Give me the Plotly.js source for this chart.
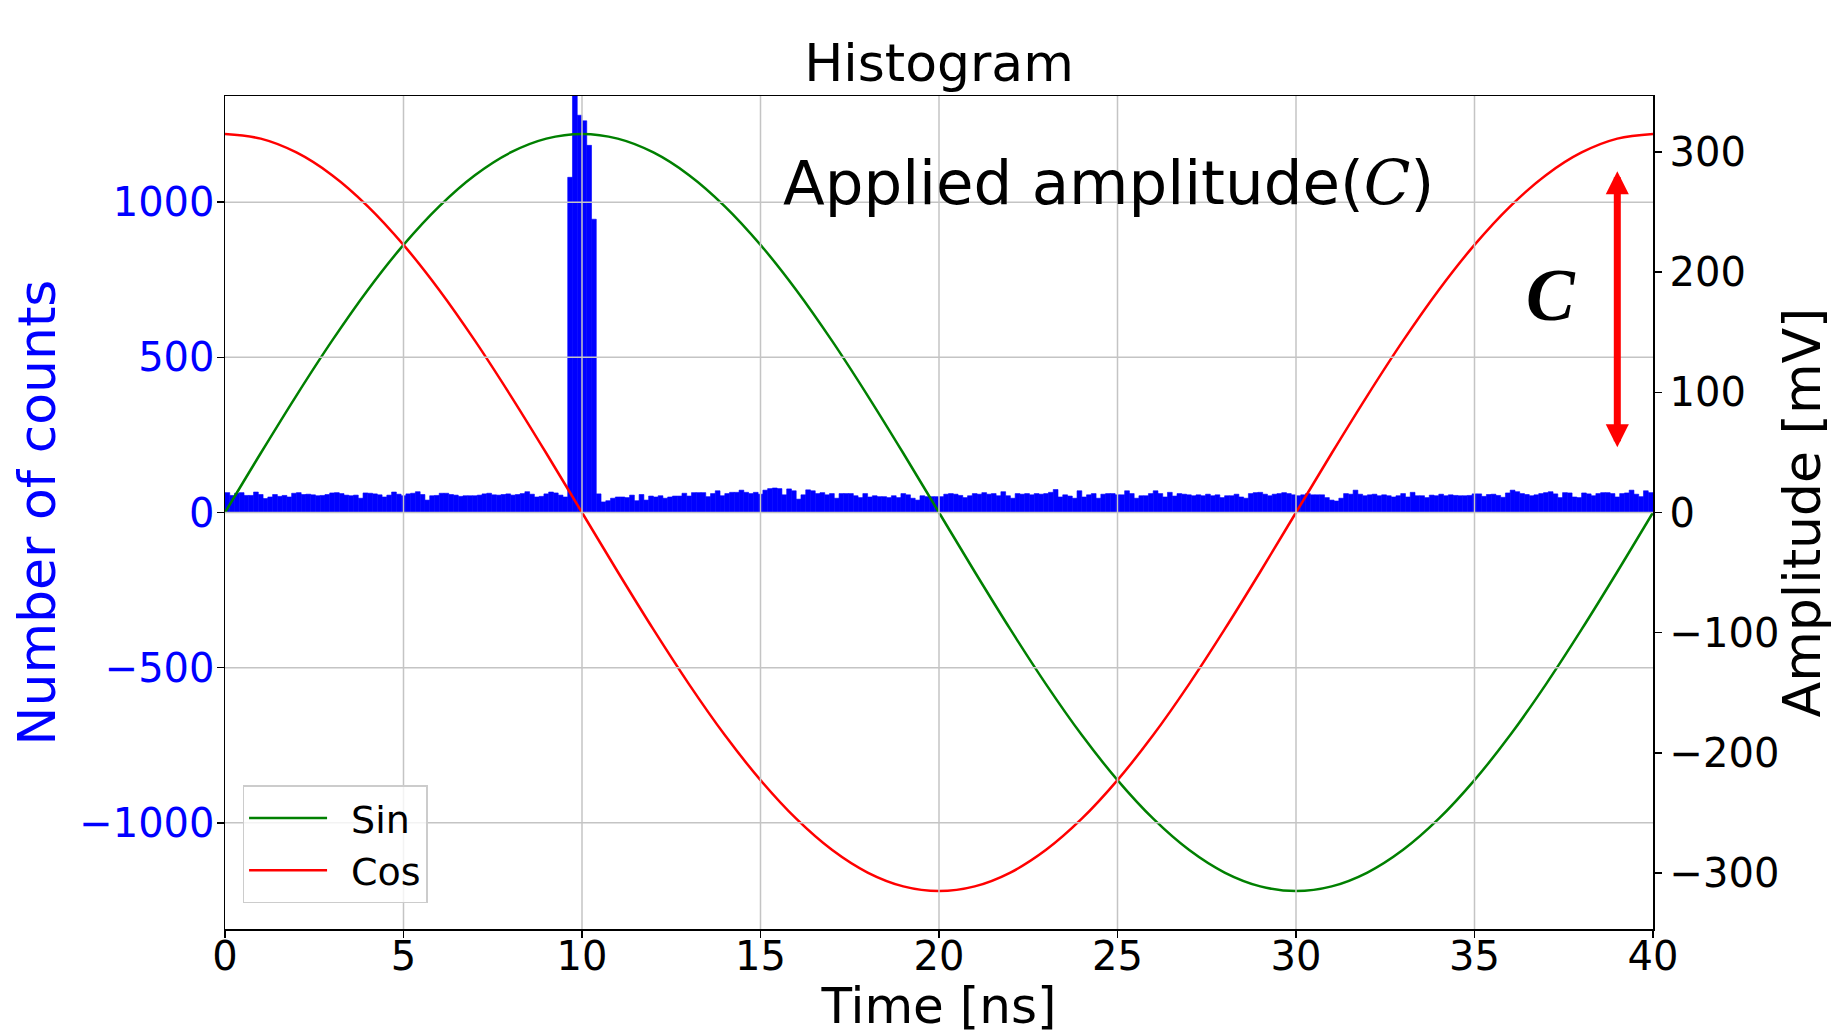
<!DOCTYPE html>
<html>
<head>
<meta charset="utf-8">
<script src="https://cdn.plot.ly/plotly-3.0.1.min.js"></script>
<style>
html,body{margin:0;padding:0;background:#ffffff;}
#chart{width:1832px;height:1035px;}
</style>
</head>
<body>
<div id="chart"></div>
<script>
// ---------------- data ----------------
// histogram: 300 bins over 0..40 ns
const binWidthNs = 40 / 300;
const counts = [
  // bins 0-49
  64,55,62,64,55,55,66,58,45,50,
  58,52,55,50,62,64,58,59,57,54,
  55,58,63,64,61,56,54,56,46,63,
  62,60,57,50,56,66,59,54,60,62,
  67,58,40,54,55,62,62,58,56,52,
  // bins 50-71
  54,
  54,54,56,60,62,57,56,58,60,56,
  58,61,67,59,50,52,60,66,63,56,50,
  // bins 72-77 (peak)
  1080,1342,1280,1262,1183,945,
  // bins 78-99
  60,34,38,46,50,50,48,56,38,58,40,53,50,54,46,50,53,53,62,53,64,64,
  // bin 100
  64,
  // bins 101-150
  51,61,70,54,61,65,65,72,65,61,
  65,59,72,77,79,77,57,76,70,43,
  57,73,70,61,64,57,61,46,61,61,
  61,54,48,61,50,54,51,51,48,54,
  48,61,57,46,40,54,51,51,51,51,
  // bin 151
  59,
  // bins 152-200
  61,59,55,48,54,61,59,64,59,61,
  54,67,54,46,61,59,61,57,61,59,
  61,65,74,50,57,53,46,70,50,57,
  61,46,59,61,61,57,57,70,61,46,
  54,54,61,70,61,50,65,53,61,
  // bin 201
  59,
  // bins 202-250
  57,54,57,54,59,54,57,48,54,54,
  59,50,46,61,64,65,59,54,59,61,
  64,61,57,54,57,61,57,57,57,48,
  40,37,46,61,59,72,59,54,57,59,
  54,57,54,50,54,61,50,65,54,
  // bins 251-252
  54,48,
  // bins 253-299
  56,54,59,54,57,55,54,54,55,60,
  60,52,58,59,55,49,63,72,67,61,
  58,54,57,61,64,67,60,48,64,63,
  50,48,63,60,54,61,64,64,61,50,
  61,63,72,59,51,70,64
];

// applied signals (mV), sampled every 1 ns
const timeNs = [0,1,2,3,4,5,6,7,8,9,10,11,12,13,14,15,16,17,18,19,20,
                21,22,23,24,25,26,27,28,29,30,31,32,33,34,35,36,37,38,39,40];
const sinMv = [0,49.3,97.3,143.0,185.2,222.7,254.8,280.7,299.6,311.1,315,
               311.1,299.6,280.7,254.8,222.7,185.2,143.0,97.3,49.3,0,
               -49.3,-97.3,-143.0,-185.2,-222.7,-254.8,-280.7,-299.6,-311.1,-315,
               -311.1,-299.6,-280.7,-254.8,-222.7,-185.2,-143.0,-97.3,-49.3,0];
const cosMv = [315,311.1,299.6,280.7,254.8,222.7,185.2,143.0,97.3,49.3,0,
               -49.3,-97.3,-143.0,-185.2,-222.7,-254.8,-280.7,-299.6,-311.1,-315,
               -311.1,-299.6,-280.7,-254.8,-222.7,-185.2,-143.0,-97.3,-49.3,0,
               49.3,97.3,143.0,185.2,222.7,254.8,280.7,299.6,311.1,315];

const seriesNames = ['Sin', 'Cos'];
const xTicks = [0,5,10,15,20,25,30,35,40];
const countTicks = [-1000,-500,0,500,1000];
const ampTicks = [-300,-200,-100,0,100,200,300];
const timeRange = [0, 40];
const countRange = [-1342, 1342];
const ampRange = [-346.6, 346.6];

const chartTitle = 'Histogram';
const xTitle = 'Time [ns]';
const yTitle = 'Number of counts';
const y2Title = 'Amplitude [mV]';
const appliedLabel = 'Applied amplitude(<span style="font-family:\'DejaVu Serif\'"><i>C</i></span>)';
const cLabel = '<b><i>C</i></b>';
// arrow annotation (ns, mV)
const arrowX = 39;
const arrowTop = 284;
const arrowBottom = 53;

// ---------------- chart ----------------
const FONT = 'DejaVu Sans, sans-serif';
const gridColor = '#c4c4c4';
const legendGap = '\u2002';

const traces = [
  {
    type: 'bar',
    x0: binWidthNs / 2,
    dx: binWidthNs,
    y: counts,
    width: binWidthNs,
    marker: {color: '#0000ff', line: {color: '#0000ff', width: 0.6}},
    xaxis: 'x', yaxis: 'y',
    showlegend: false,
    hoverinfo: 'skip'
  },
  {
    type: 'scatter', mode: 'lines',
    x: timeNs, y: sinMv, name: legendGap + seriesNames[0],
    line: {color: '#008000', width: 2.5, shape: 'spline', smoothing: 1},
    xaxis: 'x', yaxis: 'y2'
  },
  {
    type: 'scatter', mode: 'lines',
    x: timeNs, y: cosMv, name: legendGap + seriesNames[1],
    line: {color: '#ff0000', width: 2.5, shape: 'spline', smoothing: 1},
    xaxis: 'x', yaxis: 'y2'
  }
];

// grid lines drawn above the bars (as in the reference)
const shapes = [];
xTicks.filter(v => v > timeRange[0] && v < timeRange[1]).forEach(v => {
  shapes.push({type: 'line', xref: 'x', yref: 'paper', x0: v, x1: v, y0: 0, y1: 1,
               line: {color: gridColor, width: 1.5}, layer: 'above'});
});
countTicks.forEach(v => {
  shapes.push({type: 'line', xref: 'paper', yref: 'y', x0: 0, x1: 1, y0: v, y1: v,
               line: {color: gridColor, width: 1.5}, layer: 'above'});
});

const layout = {
  width: 1832, height: 1035,
  margin: {l: 225, r: 179, t: 96, b: 106, pad: 0},
  paper_bgcolor: '#ffffff', plot_bgcolor: '#ffffff',
  font: {family: FONT, color: '#000000', size: 40},
  bargap: 0,
  title: {text: chartTitle, font: {family: FONT, size: 52, color: '#000000'},
          x: 0.5, xref: 'paper', xanchor: 'center',
          y: 1 - 62.5 / 1035, yref: 'container', yanchor: 'middle'},
  xaxis: {
    range: timeRange, tickmode: 'array', tickvals: xTicks,
    ticks: 'outside', ticklen: 7, tickwidth: 1.5, tickcolor: '#000000',
    ticklabelstandoff: -16,
    tickfont: {family: FONT, size: 40, color: '#000000'},
    showline: true, linecolor: '#000000', linewidth: 1.5, mirror: true,
    showgrid: false, zeroline: false, automargin: false,
    title: {text: xTitle, font: {family: FONT, size: 50, color: '#000000'}, standoff: 30}
  },
  yaxis: {
    range: countRange, tickmode: 'array', tickvals: countTicks,
    ticks: 'outside', ticklen: 7, tickwidth: 1.5, tickcolor: '#000000',
    ticklabelstandoff: -6,
    tickfont: {family: FONT, size: 40, color: '#0000ff'},
    showline: true, linecolor: '#000000', linewidth: 1.5,
    showgrid: false, zeroline: false, automargin: false,
    title: {text: yTitle, font: {family: FONT, size: 52, color: '#0000ff'}, standoff: 7}
  },
  yaxis2: {
    overlaying: 'y', side: 'right', anchor: 'x',
    range: ampRange, tickmode: 'array', tickvals: ampTicks,
    ticks: 'outside', ticklen: 7, tickwidth: 1.5, tickcolor: '#000000',
    tickfont: {family: FONT, size: 40, color: '#000000'},
    showline: true, linecolor: '#000000', linewidth: 1.5,
    showgrid: false, zeroline: false, automargin: false,
    title: {text: y2Title, font: {family: FONT, size: 52, color: '#000000'}, standoff: 11}
  },
  legend: {
    x: 0.0123, y: 0.031, xanchor: 'left', yanchor: 'bottom',
    bgcolor: 'rgba(255,255,255,0.8)', bordercolor: '#cccccc', borderwidth: 1.5,
    font: {family: FONT, size: 38, color: '#000000'},
    itemwidth: 78,
    tracegroupgap: 0
  },
  shapes: shapes,
  annotations: [
    {text: appliedLabel, xref: 'x', yref: 'y2', x: 24.74, y: 275,
     showarrow: false, xanchor: 'center', yanchor: 'middle',
     font: {family: FONT, size: 61, color: '#000000'}},
    {text: cLabel, xref: 'x', yref: 'y2', x: 37.14, y: 181,
     showarrow: false, xanchor: 'center', yanchor: 'middle',
     font: {family: 'Liberation Serif, serif', size: 73, color: '#000000'}},
    {text: '', xref: 'x', yref: 'y2', x: arrowX, y: arrowTop,
     axref: 'x', ayref: 'y2', ax: arrowX, ay: arrowBottom,
     showarrow: true, arrowside: 'end+start',
     arrowhead: 2, arrowsize: 0.66, startarrowhead: 2, startarrowsize: 0.66,
     arrowwidth: 7, arrowcolor: '#ff0000', standoff: 0, startstandoff: 0}
  ]
};

Plotly.newPlot('chart', traces, layout, {displayModeBar: false, staticPlot: true});
</script>
</body>
</html>
